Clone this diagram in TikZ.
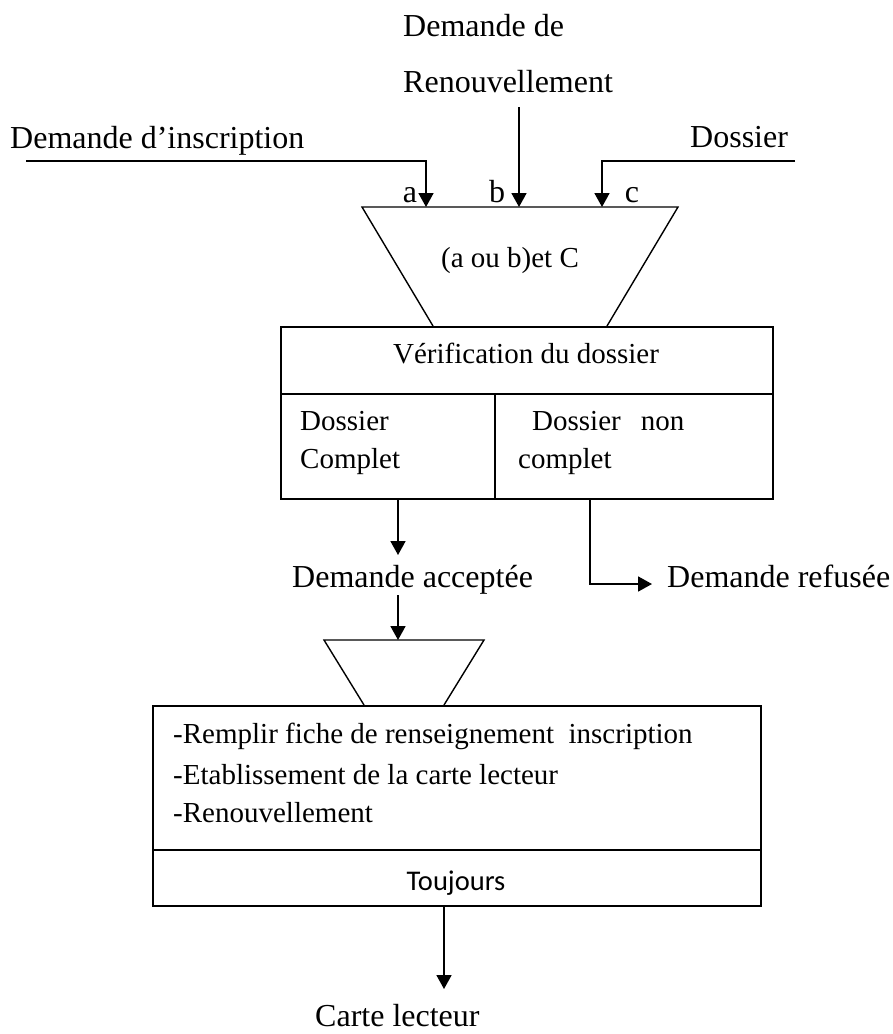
\documentclass[tikz,border=0pt]{standalone}
\usepackage{fontspec}
\setmainfont{Liberation Serif}
\newfontfamily\calibrifont{Carlito}
\usetikzlibrary{arrows.meta}

\begin{document}
\begin{tikzpicture}[x=1pt,y=-1pt,
  big/.style={font=\fontsize{32}{38}\selectfont, inner sep=0pt},
  small/.style={font=\fontsize{29}{35}\selectfont, inner sep=0pt},
  sans/.style={font=\calibrifont\fontsize{28.5}{34}\selectfont, inner sep=0pt},
  box/.style={draw, line width=1.8pt, inner sep=0pt, anchor=north west},
  gate/.style={line width=1.4pt, line join=miter},
  flow/.style={line width=1.8pt, -{Triangle[length=14pt,width=15pt]}}
]
\useasboundingbox (0,0) rectangle (893,1034);

% incoming flows
\node[big, anchor=base west] (tDem) at (403,36) {Demande de};
\node[big, anchor=base west] (tRen) at (403,92) {Renouvellement};
\node[big, anchor=base west] (tInscr) at (10,148) {Demande d’inscription};
\node[big, anchor=base west] (tDos) at (690,147) {Dossier};

\coordinate (inA) at (26,161);  \coordinate (gA) at (426,207);
\coordinate (inB) at (519,107); \coordinate (gB) at (519,207);
\coordinate (inC) at (795,161); \coordinate (gC) at (602,207);
\draw[flow] (inA) -| (gA);
\draw[flow] (inB) -- (gB);
\draw[flow] (inC) -| (gC);

\node[big, anchor=base] (la) at (410,202) {a};
\node[big, anchor=base] (lb) at (497,202) {b};
\node[big, anchor=base] (lc) at (632,202) {c};

% synchronisation gate
\coordinate (g1tl) at (362,207); \coordinate (g1tr) at (678,207);
\coordinate (g1br) at (607,326); \coordinate (g1bl) at (433,326);
\draw[gate] (g1bl) -- (g1tl) -- (g1tr) -- (g1br);
\node[small, anchor=base] (cond) at (510,267) {(a ou b)et C};

% operation: check of the file
\node[box, minimum width=492pt, minimum height=67pt] (verif) at (280,326) {};
\node[box, minimum width=214pt, minimum height=105pt] (ok) at (280,393) {};
\node[box, minimum width=278pt, minimum height=105pt] (nok) at (494,393) {};
\node[small, anchor=base] (tVerif) at (526,363) {Vérification du dossier};
\node[small, anchor=base west] (tOk1) at (300,430) {Dossier};
\node[small, anchor=base west] (tOk2) at (300,468) {Complet};
\node[small, anchor=base west] (tNok1) at (532,430) {Dossier\hspace{20pt}non};
\node[small, anchor=base west] (tNok2) at (518,468) {complet};

% results
\coordinate (okOut) at (398,498); \coordinate (okTip) at (398,555);
\draw[flow] (okOut) -- (okTip);
\node[big, anchor=base west] (acc) at (292,587) {Demande acceptée};

\coordinate (nokOut) at (590,498); \coordinate (refTip) at (652,584);
\draw[flow] (nokOut) |- (refTip);
\node[big, anchor=base west] (ref) at (667,587) {Demande refusée};

\coordinate (accOut) at (398,595); \coordinate (g2top) at (398,640);
\draw[flow] (accOut) -- (g2top);

% second gate
\coordinate (g2tl) at (324,640); \coordinate (g2tr) at (484,640);
\coordinate (g2br) at (444,705); \coordinate (g2bl) at (364,705);
\draw[gate] (g2bl) -- (g2tl) -- (g2tr) -- (g2br);

% operation: registration
\node[box, minimum width=608pt, minimum height=144pt] (actions) at (152,705) {};
\node[box, minimum width=608pt, minimum height=56pt] (always) at (152,849) {};
\node[small, anchor=base west] (act1) at (173,743) {-Remplir fiche de renseignement\ \ inscription};
\node[small, anchor=base west] (act2) at (173,784) {-Etablissement de la carte lecteur};
\node[small, anchor=base west] (act3) at (173,822) {-Renouvellement};
\node[sans, anchor=base] (tAlw) at (456,890) {Toujours};

\coordinate (alwOut) at (444,905); \coordinate (carteTip) at (444,989);
\draw[flow] (alwOut) -- (carteTip);
\node[big, anchor=base west] (carte) at (315,1026) {Carte lecteur};
\end{tikzpicture}
\end{document}
